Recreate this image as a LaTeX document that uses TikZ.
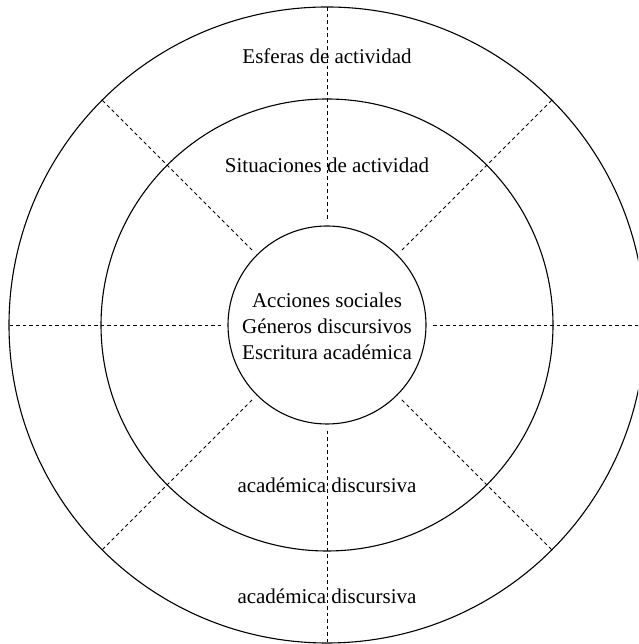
\documentclass[tikz,border=0pt]{standalone}
\usepackage{fontspec}
\setmainfont{Liberation Serif}
\usetikzlibrary{calc}
\begin{document}
\begin{tikzpicture}[x=1pt,y=1pt,
  ring/.style={circle,draw=black,line width=1.1pt,inner sep=0pt,outer sep=0pt},
  dline/.style={draw=black,line width=0.8pt,dash pattern=on 3.5pt off 3pt},
  lbl/.style={font=\fontsize{21}{26}\selectfont,inner sep=0pt,text=black}]
\useasboundingbox (0,0) rectangle (638,644);
\clip (0,0) rectangle (638,644);
\coordinate (c) at (327,319);
\node[ring,minimum size=636pt] (outer) at (c) {};
\node[ring,minimum size=452pt] (middle) at (c) {};
\node[ring,minimum size=198pt] (inner) at (c) {};
\foreach \a in {0,45,...,315}{
  \coordinate (s\a) at ($(c)+(\a:106)$);
  \draw[dline] (s\a) -- (outer.\a);
}
\node[lbl,anchor=base] (esf) at (327,580) {Esferas de actividad};
\node[lbl,anchor=base] (sit) at (327,471) {Situaciones de actividad};
\node[lbl,align=center] (cen) at (327,318) {Acciones sociales\\Géneros discursivos\\Escritura académica};
\node[lbl,anchor=base] (ad1) at (327,151) {académica discursiva};
\node[lbl,anchor=base] (ad2) at (327,40) {académica discursiva};
\end{tikzpicture}
\end{document}
